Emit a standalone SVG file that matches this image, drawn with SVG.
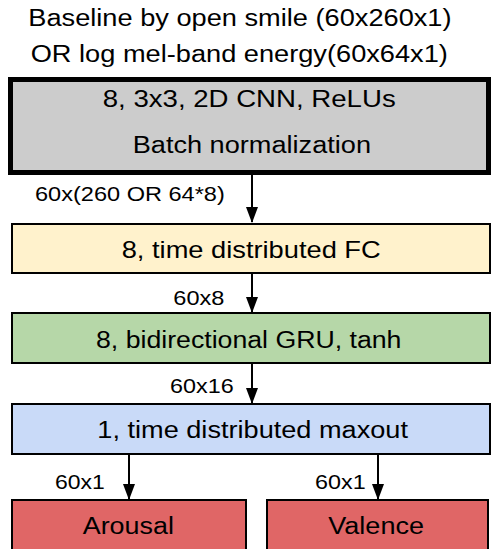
<svg xmlns="http://www.w3.org/2000/svg" width="492" height="549" viewBox="0 0 492 549">
<defs>
<style>
text{font-family:"Liberation Sans",Arial,sans-serif;fill:#000;text-anchor:start}
.t{font-size:23.5px}
.b{font-size:24.5px}
.l{font-size:19.8px}
.box{stroke:#000;stroke-width:2}
.c{stroke:#000;stroke-width:2;fill:none;marker-end:url(#ah)}
</style>
<marker id="ah" markerUnits="userSpaceOnUse" markerWidth="16" markerHeight="12" refX="15" refY="6" viewBox="0 0 16 12" orient="auto">
<path d="M0,0 L16,6 L0,12 Z" fill="#000"/>
</marker>
</defs>
<rect width="492" height="549" fill="#fff"/>
<g id="title">
<text class="t" transform="translate(28.3,25.7) scale(1.158,1)">Baseline by open smile (60x260x1)</text>
<text class="t" transform="translate(30.7,61.7) scale(1.158,1)">OR log mel-band energy(60x64x1)</text>
</g>
<g id="connectors">
<line class="c" x1="252" y1="175" x2="252" y2="222"/>
<line class="c" x1="252" y1="273" x2="252" y2="312"/>
<line class="c" x1="252" y1="363" x2="252" y2="403"/>
<line class="c" x1="129" y1="454" x2="129" y2="499"/>
<line class="c" x1="378" y1="454" x2="378" y2="499"/>
<text class="l" transform="translate(35,200.7) scale(1.19,1)">60x(260 OR 64*8)</text>
<text class="l" transform="translate(173.3,305) scale(1.19,1)">60x8</text>
<text class="l" transform="translate(170,393.3) scale(1.18,1)">60x16</text>
<text class="l" transform="translate(55,489.3) scale(1.16,1)">60x1</text>
<text class="l" transform="translate(315,489.3) scale(1.18,1)">60x1</text>
</g>
<g id="cnn">
<rect x="10.5" y="79.5" width="478" height="93" fill="#cccccc" stroke="#000" stroke-width="5"/>
<text class="b" transform="translate(102.7,106.7) scale(1.127,1)">8, 3x3, 2D CNN, ReLUs</text>
<text class="b" transform="translate(132.7,153.3) scale(1.108,1)">Batch normalization</text>
</g>
<g id="fc">
<rect class="box" x="12" y="224" width="478" height="49" fill="#fff2cc"/>
<text class="b" transform="translate(121.7,258.2) scale(1.113,1)">8, time distributed FC</text>
</g>
<g id="gru">
<rect class="box" x="12" y="313" width="478" height="50" fill="#b6d7a8"/>
<text class="b" transform="translate(96,348.3) scale(1.089,1)">8, bidirectional GRU, tanh</text>
</g>
<g id="maxout">
<rect class="box" x="12" y="404" width="478" height="50" fill="#c9daf8"/>
<text class="b" transform="translate(97.3,438.3) scale(1.108,1)">1, time distributed maxout</text>
</g>
<g id="arousal">
<rect class="box" x="12" y="500" width="234" height="60" fill="#e06666"/>
<text class="b" transform="translate(82.7,533.8) scale(1.098,1)">Arousal</text>
</g>
<g id="valence">
<rect class="box" x="267" y="500" width="221" height="60" fill="#e06666"/>
<text class="b" transform="translate(328.3,533.8) scale(1.104,1)">Valence</text>
</g>
</svg>
